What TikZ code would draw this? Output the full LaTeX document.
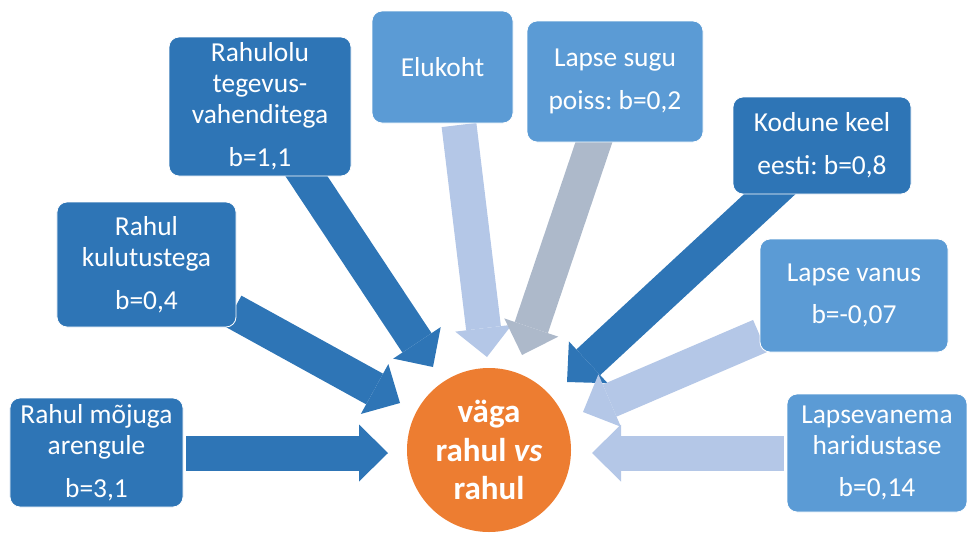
\documentclass[tikz,border=0pt]{standalone}
\usepackage{fontspec}
\setmainfont{Carlito}
\frenchspacing
\usetikzlibrary{arrows.meta}
\definecolor{figdark}{HTML}{2E75B6}
\definecolor{figlight}{HTML}{5B9BD5}
\definecolor{figpale}{HTML}{B4C7E7}
\definecolor{figslate}{HTML}{ADB9CA}
\definecolor{figorange}{HTML}{ED7D31}
\tikzset{
  fig/.style={font=\fontsize{19.5}{22}\selectfont},
  box/.style={draw=white,line width=0.6pt,rounded corners=2.5mm,text=white,
              align=center,inner sep=0pt,font=\fontsize{19.5}{22}\selectfont},
  darkbox/.style={box,fill=figdark},
  lightbox/.style={box,fill=figlight},
  barr/.style={line width=8.75mm,
               -{Triangle[length=7.25mm,width=14.25mm,line width=0pt]}},
}

\begin{document}
\begin{tikzpicture}[fig,x=0.25mm,y=-0.25mm]
\useasboundingbox (0,0) rectangle (967,533);

% arrow ends
\coordinate (areng-a) at (186,453);   \coordinate (areng-b) at (388,453);
\coordinate (kulut-a) at (233,311);   \coordinate (kulut-b) at (400,403);
\coordinate (tegev-a) at (299,165);   \coordinate (tegev-b) at (433,367);
\coordinate (elu-a) at (459,125);     \coordinate (elu-b) at (487,357);
\coordinate (sugu-a) at (596,136);    \coordinate (sugu-b) at (522,355);
\coordinate (keel-a) at (785,180);    \coordinate (keel-b) at (567,382);
\coordinate (vanus-a) at (760,336);   \coordinate (vanus-b) at (583,412);
\coordinate (harid-a) at (784,453);   \coordinate (harid-b) at (592,453);

\draw[barr,figdark] (areng-a) -- (areng-b);
\draw[barr,figdark] (kulut-a) -- (kulut-b);
\draw[barr,figdark] (tegev-a) -- (tegev-b);
\draw[barr,figpale] (elu-a) -- (elu-b);
\draw[barr,figslate] (sugu-a) -- (sugu-b);
\draw[barr,figdark] (keel-a) -- (keel-b);
\draw[barr,figpale] (vanus-a) -- (vanus-b);
\draw[barr,figpale] (harid-a) -- (harid-b);

% boxes
\node[darkbox,minimum width=43.25mm,minimum height=27.25mm] (areng) at (96.5,452.5)
     {Rahul mõjuga\\arengule\\[8.5pt]b=3,1};
\node[darkbox,minimum width=44.75mm,minimum height=31.25mm] (kulut) at (146.5,264.5)
     {Rahul\\kulutustega\\[8.5pt]b=0,4};
\node[darkbox,minimum width=45.5mm,minimum height=34.75mm] (tegev) at (260,106.5)
     {Rahulolu\\tegevus-\\vahenditega\\[8.5pt]b=1,1};
\node[lightbox,minimum width=35.25mm,minimum height=28mm] (elu) at (442.5,67)
     {Elukoht};
\node[lightbox,minimum width=44mm,minimum height=30.25mm] (sugu) at (615,81.5)
     {Lapse sugu\\[8.5pt]poiss: b=0,2};
\node[darkbox,minimum width=44.5mm,minimum height=24.25mm] (keel) at (822,145.5)
     {Kodune keel\\[8.5pt]eesti: b=0,8};
\node[lightbox,minimum width=47mm,minimum height=28.25mm] (vanus) at (854,295.5)
     {Lapse vanus\\[8.5pt]b=-0,07};
\node[lightbox,minimum width=45mm,minimum height=29.5mm] (harid) at (877,453)
     {Lapsevanema\\haridustase\\[8.5pt]b=0,14};

\node[circle,fill=figorange,minimum size=41mm,inner sep=0pt,text=white,align=center,
      font=\fontsize{23.5}{27.6}\selectfont\bfseries] (rahul) at (489,450)
     {väga\\rahul \textit{vs}\\rahul};

\end{tikzpicture}
\end{document}
